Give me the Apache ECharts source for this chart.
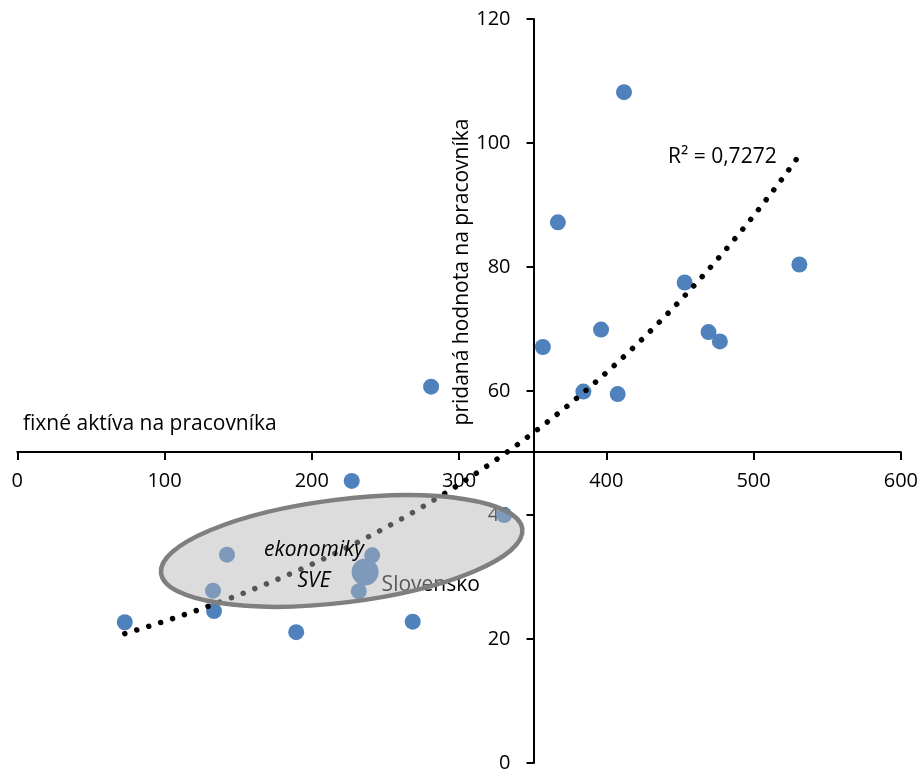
<!DOCTYPE html>
<html><head><meta charset="utf-8">
<script src="https://cdn.jsdelivr.net/npm/echarts@6/dist/echarts.min.js"></script>
<style>html,body{margin:0;padding:0;background:#fff}#c{width:921px;height:773px}</style>
</head><body><div id="c"></div>
<script>
// fixné aktíva na pracovníka (x) and pridaná hodnota na pracovníka (y)
const fixedAssets = [412.0, 367.1, 356.9, 396.4, 384.4, 407.7, 453.2, 469.4, 477.1, 531.1, 281.0,
                     227.1, 142.4, 241.0, 231.9, 132.9, 133.6, 73.0, 189.4, 268.5, 330.6];
const valueAdded  = [108.2, 87.2, 67.1, 69.9, 59.9, 59.5, 77.5, 69.5, 68.0, 80.4, 60.7,
                     45.5, 33.6, 33.5, 27.7, 27.8, 24.5, 22.7, 21.1, 22.8, 40.0];
const slovakia = [236.2, 30.8];
const slovakiaName = 'Slovensko';
const xTickInfo = [0, 600, 100];
const yTickInfo = [0, 120, 20];
const xCross = 350; // where y axis crosses
const yCross = 50;  // where x axis crosses
const xTitle = 'fixné aktíva na pracovníka';
const yTitle = 'pridaná hodnota na pracovníka';
const r2Text = 'R² = 0,7272';
const groupText = 'ekonomiky\nSVE';

const W = 921, H = 773;
const G = {left: 17.3, right: 18.7, top: 19, bottom: 7.3};
const plotW = W - G.left - G.right, plotH = H - G.top - G.bottom;

// exponential trend (least squares on ln y), like the spreadsheet trendline
const allX = fixedAssets.concat([slovakia[0]]);
const allY = valueAdded.concat([slovakia[1]]);
const n = allX.length;
let sx=0, sy=0, sxx=0, sxy=0;
for (let i=0;i<n;i++){ const lx=allX[i], ly=Math.log(allY[i]); sx+=lx; sy+=ly; sxx+=lx*lx; sxy+=lx*ly; }
const b = (n*sxy - sx*sy)/(n*sxx - sx*sx);
const lnA = (sy - b*sx)/n;
const xMin = Math.min(...allX), xMax = Math.max(...allX);
const trend = [];
for (let i=0;i<=120;i++){ const x = xMin + (xMax-xMin)*i/120; trend.push([x, Math.exp(lnA + b*x)]); }

const pts = fixedAssets.map((x,i)=>[x, valueAdded[i]]);
const FONT = '"Open Sans", sans-serif';
const FS = 20;   // tick labels
const TFS = 21;  // other texts

const chart = echarts.init(document.getElementById('c'), null, {renderer:'canvas'});
chart.setOption({
  animation: false,
  grid: {left: G.left, right: G.right, top: G.top, bottom: G.bottom, containLabel: false},
  xAxis: {
    type: 'value', min: xTickInfo[0], max: xTickInfo[1], interval: xTickInfo[2],
    position: 'bottom',
    offset: -plotH * (yCross - yTickInfo[0]) / (yTickInfo[1] - yTickInfo[0]),
    axisLine: {onZero: false, lineStyle: {color: '#000', width: 2}},
    axisTick: {show: true, length: 8, lineStyle: {color: '#000', width: 2}},
    axisLabel: {margin: 19, fontSize: FS, color: '#000', fontFamily: FONT},
    splitLine: {show: false}
  },
  yAxis: {
    type: 'value', min: yTickInfo[0], max: yTickInfo[1], interval: yTickInfo[2],
    position: 'left',
    offset: -plotW * (xCross - xTickInfo[0]) / (xTickInfo[1] - xTickInfo[0]),
    axisLine: {onZero: false, lineStyle: {color: '#000', width: 2}},
    axisTick: {show: true, length: 7, lineStyle: {color: '#000', width: 2}},
    axisLabel: {margin: 23, fontSize: FS, color: '#000', fontFamily: FONT},
    splitLine: {show: false}
  },
  series: [
    {
      type: 'scatter', data: pts, symbolSize: 16,
      itemStyle: {color: '#4f81bd', opacity: 1}, z: 2
    },
    {
      type: 'scatter', data: [slovakia], symbolSize: 27,
      itemStyle: {color: '#4f81bd', opacity: 1}, z: 2,
      label: {show: true, formatter: slovakiaName, position: 'right', distance: 3, offset: [0, 13],
              fontSize: TFS, color: '#000', fontFamily: FONT}
    },
    {
      type: 'line', data: trend, showSymbol: false, smooth: false, z: 3,
      lineStyle: {color: '#000', width: 5.5, type: [0.01, 12.5], cap: 'round'},
      silent: true
    }
  ],
  graphic: [
    {type: 'ellipse', x: 341.7, y: 551, rotation: 7*Math.PI/180, z: 100,
     shape: {cx: 0, cy: 0, rx: 182, ry: 51.5},
     style: {fill: 'rgba(181,181,181,0.47)', stroke: '#7f7f7f', lineWidth: 4.5}},
    {type: 'text', x: 314, y: 566, z: 110,
     style: {text: groupText, font: 'italic ' + TFS + 'px ' + FONT, fill: '#000', align: 'center', verticalAlign: 'middle', lineHeight: 31}},
    {type: 'text', x: 23, y: 424, z: 110,
     style: {text: xTitle, font: TFS + 'px ' + FONT, fill: '#000', align: 'left', verticalAlign: 'middle'}},
    {type: 'text', x: 462, y: 272, rotation: Math.PI/2, z: 110,
     style: {text: yTitle, font: TFS + 'px ' + FONT, fill: '#000', align: 'center', verticalAlign: 'middle'}},
    {type: 'text', x: 668, y: 157, z: 110,
     style: {text: r2Text, font: TFS + 'px ' + FONT, fill: '#000', align: 'left', verticalAlign: 'middle'}}
  ]
});
</script>
</body></html>
